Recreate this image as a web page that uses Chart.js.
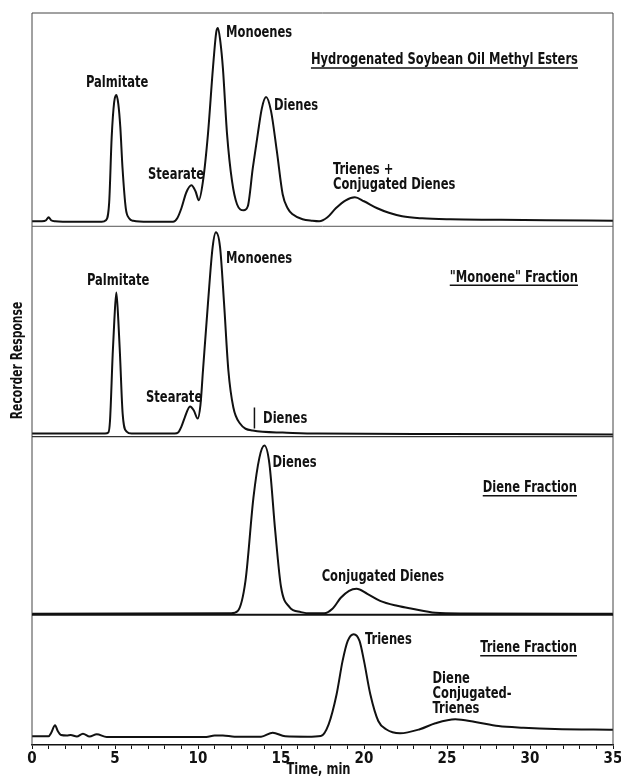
<!DOCTYPE html>
<html><head><meta charset="utf-8">
<script src="https://cdn.jsdelivr.net/npm/chart.js@4.4.1/dist/chart.umd.min.js"></script>
<style>html,body{margin:0;padding:0;background:#fff;}canvas{display:block;}</style>
</head><body>
<canvas id="c" width="621" height="776"></canvas>
<script>
const FONT = '"DejaVu Sans Condensed", "DejaVu Sans", sans-serif';
const HSCALE = 0.8;

// ---- data (time in min, recorder response above each panel's baseline) ----
const timeTicks = [0, 5, 10, 15, 20, 25, 30, 35];

const p1Time = [0,0.6,0.85,1.0,1.15,1.4,2.5,4.2,4.45,4.65,4.8,4.95,5.08,5.2,5.32,5.45,5.65,5.85,6.1,7,8.5,8.75,9.0,9.3,9.6,9.85,10.05,10.3,10.6,10.9,11.1,11.2,11.35,11.5,11.75,12.05,12.35,12.75,13.0,13.3,13.6,13.85,14.1,14.4,14.75,15.1,15.4,15.7,16.3,16.9,17.3,17.8,18.3,18.9,19.45,20.0,20.8,21.5,22.3,23.5,25.2,28,31,35];
const p1Resp = [1,1,2,5,2,1,0.5,0.5,2,20,85,120,127,118,95,55,14,4,1.5,0.5,0.5,4,14,30,37,31,22,41,88,154,190,194,180,154,88,41,18,12,16,54,88,114,125,111,71,28,14,8,3,1.5,1,5,14,22,25,21,14,9.5,6,4,3,2.5,2,1.5];

const p2Time = [0,4.4,4.6,4.7,4.86,4.96,5.08,5.2,5.3,5.46,5.7,6.0,8.6,8.8,9.0,9.2,9.52,9.75,9.98,10.15,10.3,10.6,10.88,11.08,11.33,11.57,11.83,12.13,12.53,13.3,15.1,17.2,25,35];
const p2Resp = [1,1,2,14,80,114,142,114,80,21,3,1,1,2,8,17,28,24,16,30,64,131,187,202,187,131,64,27,11,4,2,1,0.5,0];

const p3Time = [0,12.0,12.4,12.86,13.34,13.7,14.0,14.3,14.65,15.0,15.5,16.2,16.9,17.6,18.1,18.6,19.1,19.55,20.2,20.97,22.0,22.9,24.3,26,35];
const p3Resp = [0,0.5,3,33,116,156,168,150,83,27,7,1.7,0.5,0.5,5,16,23,25,20,13,8,5,1,0.3,0];

const p4Time = [0,1.0,1.15,1.39,1.55,1.75,2.1,2.33,2.7,3.07,3.47,3.9,4.5,10.5,11.0,11.5,12.2,13.8,14.5,15.25,16.6,17.4,17.87,18.35,18.71,19.02,19.38,19.73,20.0,20.38,20.86,21.33,22.17,23.36,24.3,25.5,26.7,28.1,29.6,31.5,35];
const p4Resp = [0.7,0.7,4,11.7,6,2,1.5,2,0.5,3.3,0.5,2.7,0,0,1.5,1.5,0.3,0.3,4.3,0.7,0.3,1,12.7,42.7,76,96,102.7,96,76,42.7,16,7.7,3.7,7.7,13.7,17.7,15,11,9.3,8,7.3];

// pen mark at the start of the dienes in the "Monoene" fraction
const p2MarkTime = [13.4, 13.4];
const p2MarkResp = [6, 27];

// ---- text ----
const panelTitles = ['Hydrogenated Soybean Oil Methyl Esters', '"Monoene" Fraction', 'Diene Fraction', 'Triene Fraction'];
const titlePos = [{t:32.89,h:162},{t:32.89,h:157},{t:32.83,h:126},{t:32.83,h:89}];
const peakLabels = [
  {p:1, text:'Palmitate', t:3.25, h:139},
  {p:1, text:'Monoenes', t:11.69, h:189},
  {p:1, text:'Stearate', t:6.99, h:47},
  {p:1, text:'Dienes', t:14.58, h:116},
  {p:1, text:'Trienes +', t:18.13, h:52},
  {p:1, text:'Conjugated Dienes', t:18.13, h:37},
  {p:2, text:'Palmitate', t:3.31, h:154},
  {p:2, text:'Monoenes', t:11.69, h:175},
  {p:2, text:'Stearate', t:6.87, h:37},
  {p:2, text:'Dienes', t:13.92, h:16},
  {p:3, text:'Dienes', t:14.49, h:151},
  {p:3, text:'Conjugated Dienes', t:17.45, h:37},
  {p:4, text:'Trienes', t:20.06, h:97},
  {p:4, text:'Diene', t:24.13, h:58},
  {p:4, text:'Conjugated-', t:24.13, h:43},
  {p:4, text:'Trienes', t:24.13, h:28}
];
const yTitle = 'Recorder Response';
const xTitle = 'Time, min';

function pts(ts, vs) { return ts.map((t, i) => ({x: t, y: vs[i]})); }
function ds(ts, vs, axis) {
  return { data: pts(ts, vs), yAxisID: axis, borderColor: '#111', borderWidth: 2,
    pointRadius: 0, fill: false, cubicInterpolationMode: 'monotone' };
}
function yScale(min, max, weight) {
  return { type: 'linear', min, max, position: 'left', stack: 'panels',
    stackWeight: max - min, weight, display: false };
}

const decor = {
  id: 'decor',
  afterDatasetsDraw(chart) {
    const {ctx, chartArea: a, scales: s} = chart;
    const L = (x1, y1, x2, y2, w, c) => { ctx.beginPath(); ctx.lineWidth = w; ctx.strokeStyle = c;
      ctx.moveTo(x1, y1); ctx.lineTo(x2, y2); ctx.stroke(); };
    // condensed text: draw with a horizontal squeeze, returns drawn width
    const T = (txt, x, y, align) => {
      const w = ctx.measureText(txt).width * HSCALE;
      const left = align === 'right' ? x - w : align === 'center' ? x - w / 2 : x;
      ctx.save(); ctx.translate(left, y); ctx.scale(HSCALE, 1);
      ctx.textAlign = 'left'; ctx.fillText(txt, 0, 0); ctx.restore();
      return w;
    };
    ctx.save();
    L(a.left, a.top, a.right, a.top, 1, '#444');
    L(a.left, a.top, a.left, a.bottom, 1, '#444');
    L(a.right, a.top, a.right, a.bottom, 1, '#444');
    L(a.left, s.y2.top, a.right, s.y2.top, 1, '#555');
    L(a.left, s.y3.top, a.right, s.y3.top, 1.2, '#333');
    L(a.left, s.y4.top, a.right, s.y4.top, 2, '#111');
    ctx.fillStyle = '#111';
    ctx.font = 'bold 16px ' + FONT;
    ctx.textBaseline = 'middle';
    peakLabels.forEach(l => {
      T(l.text, s.x.getPixelForValue(l.t), s['y' + l.p].getPixelForValue(l.h), 'left');
    });
    panelTitles.forEach((txt, i) => {
      const x = s.x.getPixelForValue(titlePos[i].t), y = s['y' + (i + 1)].getPixelForValue(titlePos[i].h);
      const w = T(txt, x, y, 'right');
      L(x - w, y + 8, x, y + 8, 1.5, '#111');
    });
    T(xTitle, (a.left + a.right) / 2 - 4, a.bottom + 25, 'center');
    ctx.translate(a.left - 14, s.y2.getPixelForValue(74));
    ctx.rotate(-Math.PI / 2);
    ctx.font = 'bold 15px ' + FONT;
    T(yTitle, 0, 0, 'center');
    ctx.restore();
  }
};

new Chart(document.getElementById('c'), {
  type: 'line',
  data: { datasets: [
    ds(p1Time, p1Resp, 'y1'), ds(p2Time, p2Resp, 'y2'), ds(p3Time, p3Resp, 'y3'), ds(p4Time, p4Resp, 'y4'),
    Object.assign(ds(p2MarkTime, p2MarkResp, 'y2'), {borderWidth: 1.5, cubicInterpolationMode: 'default'})
  ]},
  options: {
    responsive: false, animation: false, devicePixelRatio: 1,
    layout: { padding: { left: 32, right: 8, top: 13, bottom: 7 } },
    plugins: { legend: { display: false }, tooltip: { enabled: false } },
    scales: {
      x: { type: 'linear', min: 0, max: 35, position: 'bottom',
        afterFit: sc => { sc.paddingRight = 0; sc.paddingLeft = 0; },
        ticks: { stepSize: 1, autoSkip: false, maxRotation: 0, padding: 1, color: '#111',
          font: { family: FONT, size: 15, weight: 'bold' },
          callback: v => timeTicks.includes(v) ? String(v) : '' },
        grid: { display: true, drawOnChartArea: false, drawTicks: true, tickLength: 4, color: '#111', lineWidth: 1 },
        border: { display: true, color: '#111', width: 1.5 } },
      y1: yScale(-4, 209, 4),
      y2: yScale(-2, 208, 3),
      y3: yScale(-1, 177, 2),
      y4: yScale(-8, 122, 1)
    }
  },
  plugins: [decor]
});
</script>
</body></html>
